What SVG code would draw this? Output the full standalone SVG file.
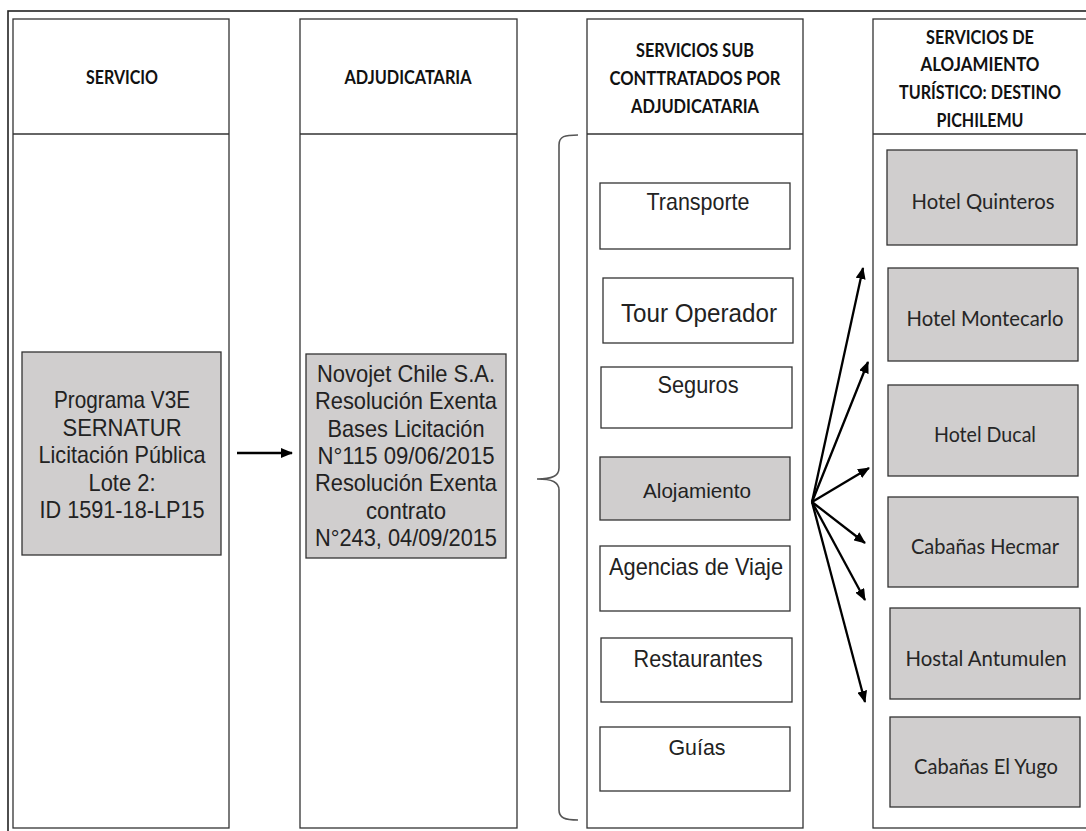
<svg xmlns="http://www.w3.org/2000/svg" width="1086" height="831" viewBox="0 0 1086 831">
<defs>
<style>
.col{fill:#fff;stroke:#333;stroke-width:1.3}
.div{stroke:#333;stroke-width:1.3}
.gbox{fill:#d0cece;stroke:#333;stroke-width:1.3}
.wbox{fill:#fff;stroke:#333;stroke-width:1.3}
.hd{font-family:Lato,"Open Sans",sans-serif;font-weight:bold;font-size:18.5px;fill:#111;text-anchor:middle}
.ar{font-family:"Liberation Sans",Arial,sans-serif;font-size:24px;fill:#222;text-anchor:middle}
.cb{font-family:Lato,"Open Sans",sans-serif;font-size:20.5px;fill:#262626;text-anchor:middle}
.con{stroke:#000;stroke-width:2.3;fill:none}
</style>
<marker id="ah" markerWidth="12" markerHeight="10" refX="11" refY="5" orient="auto" markerUnits="userSpaceOnUse"><path d="M0,0 L12,5 L0,10 z" fill="#000"/></marker>
</defs>
<rect x="0" y="0" width="1086" height="831" fill="#fff"/>
<rect x="8" y="11" width="1100" height="840" fill="none" stroke="#222" stroke-width="1.6"/>

<g id="col-servicio">
<rect class="col" x="13" y="19" width="216" height="809"/>
<line class="div" x1="13" y1="134" x2="229" y2="134"/>
<text class="hd" x="122" y="84" textLength="72" lengthAdjust="spacingAndGlyphs">SERVICIO</text>
</g>
<g id="col-adjudicataria">
<rect class="col" x="300" y="19" width="217" height="809"/>
<line class="div" x1="300" y1="134" x2="517" y2="134"/>
<text class="hd" x="408" y="84" textLength="127" lengthAdjust="spacingAndGlyphs">ADJUDICATARIA</text>
</g>
<g id="col-subcontratados">
<rect class="col" x="587" y="19" width="216" height="809"/>
<line class="div" x1="587" y1="134" x2="803" y2="134"/>
<text class="hd" x="695" y="57" textLength="118" lengthAdjust="spacingAndGlyphs">SERVICIOS SUB</text>
<text class="hd" x="695" y="85" textLength="171" lengthAdjust="spacingAndGlyphs">CONTTRATADOS POR</text>
<text class="hd" x="695" y="113" textLength="128" lengthAdjust="spacingAndGlyphs">ADJUDICATARIA</text>
</g>
<g id="col-alojamiento">
<rect class="col" x="873" y="19" width="230" height="809"/>
<line class="div" x1="873" y1="134" x2="1103" y2="134"/>
<text class="hd" x="980" y="44" textLength="108" lengthAdjust="spacingAndGlyphs">SERVICIOS DE</text>
<text class="hd" x="980" y="71" textLength="119" lengthAdjust="spacingAndGlyphs">ALOJAMIENTO</text>
<text class="hd" x="980" y="99" textLength="162" lengthAdjust="spacingAndGlyphs">TURÍSTICO: DESTINO</text>
<text class="hd" x="980" y="127" textLength="87" lengthAdjust="spacingAndGlyphs">PICHILEMU</text>
</g>

<g id="n-programa">
<rect class="gbox" x="22" y="352" width="199" height="203"/>
<text class="ar" x="122" y="408" textLength="136" lengthAdjust="spacingAndGlyphs">Programa V3E</text>
<text class="ar" x="122" y="435.5" textLength="119" lengthAdjust="spacingAndGlyphs">SERNATUR</text>
<text class="ar" x="122" y="463" textLength="167" lengthAdjust="spacingAndGlyphs">Licitación Pública</text>
<text class="ar" x="122" y="490.5" textLength="67" lengthAdjust="spacingAndGlyphs">Lote 2:</text>
<text class="ar" x="122" y="518" textLength="165" lengthAdjust="spacingAndGlyphs">ID 1591-18-LP15</text>
</g>
<g id="n-novojet">
<rect class="gbox" x="306" y="354" width="200" height="204"/>
<text class="ar" x="406" y="382" textLength="178" lengthAdjust="spacingAndGlyphs">Novojet Chile S.A.</text>
<text class="ar" x="406" y="409.3" textLength="182" lengthAdjust="spacingAndGlyphs">Resolución Exenta</text>
<text class="ar" x="406" y="436.6" textLength="157" lengthAdjust="spacingAndGlyphs">Bases Licitación</text>
<text class="ar" x="406" y="463.9" textLength="177" lengthAdjust="spacingAndGlyphs">N°115 09/06/2015</text>
<text class="ar" x="406" y="491.2" textLength="182" lengthAdjust="spacingAndGlyphs">Resolución Exenta</text>
<text class="ar" x="406" y="518.5" textLength="80" lengthAdjust="spacingAndGlyphs">contrato</text>
<text class="ar" x="406" y="545.8" textLength="182" lengthAdjust="spacingAndGlyphs">N°243, 04/09/2015</text>
</g>

<g id="n-transporte"><rect class="wbox" x="600" y="183" width="190" height="66"/><text class="ar" x="698" y="210" textLength="103" lengthAdjust="spacingAndGlyphs">Transporte</text></g>
<g id="n-tour"><rect class="wbox" x="603" y="278" width="190" height="65"/><text class="ar" x="699" y="321.5" style="font-size:26px" textLength="156" lengthAdjust="spacingAndGlyphs">Tour Operador</text></g>
<g id="n-seguros"><rect class="wbox" x="601" y="367" width="191" height="61"/><text class="ar" x="698" y="393" textLength="81" lengthAdjust="spacingAndGlyphs">Seguros</text></g>
<g id="n-alojamiento"><rect class="gbox" x="600" y="457" width="190" height="63"/><text class="ar" x="697" y="498" style="font-size:21px" textLength="108" lengthAdjust="spacingAndGlyphs">Alojamiento</text></g>
<g id="n-agencias"><rect class="wbox" x="600" y="546" width="190" height="65"/><text class="ar" x="696" y="575" textLength="174" lengthAdjust="spacingAndGlyphs">Agencias de Viaje</text></g>
<g id="n-restaurantes"><rect class="wbox" x="601" y="638" width="191" height="64"/><text class="ar" x="698" y="667" textLength="129" lengthAdjust="spacingAndGlyphs">Restaurantes</text></g>
<g id="n-guias"><rect class="wbox" x="600" y="727" width="190" height="64"/><text class="ar" x="697" y="755" style="font-size:22.5px" textLength="57" lengthAdjust="spacingAndGlyphs">Guías</text></g>

<g id="n-quinteros"><rect class="gbox" x="887" y="150" width="190" height="95"/><text class="cb" x="983" y="209" textLength="143" lengthAdjust="spacingAndGlyphs">Hotel Quinteros</text></g>
<g id="n-montecarlo"><rect class="gbox" x="888" y="268" width="190" height="93"/><text class="cb" x="985" y="326" textLength="157" lengthAdjust="spacingAndGlyphs">Hotel Montecarlo</text></g>
<g id="n-ducal"><rect class="gbox" x="888" y="385" width="190" height="91"/><text class="cb" x="985" y="442" textLength="102" lengthAdjust="spacingAndGlyphs">Hotel Ducal</text></g>
<g id="n-hecmar"><rect class="gbox" x="888" y="497" width="190" height="90"/><text class="cb" x="985" y="554" textLength="148" lengthAdjust="spacingAndGlyphs">Cabañas Hecmar</text></g>
<g id="n-antumulen"><rect class="gbox" x="890" y="608" width="190" height="91"/><text class="cb" x="986" y="666" textLength="161" lengthAdjust="spacingAndGlyphs">Hostal Antumulen</text></g>
<g id="n-yugo"><rect class="gbox" x="890" y="717" width="190" height="90"/><text class="cb" x="986" y="774" textLength="144" lengthAdjust="spacingAndGlyphs">Cabañas El Yugo</text></g>

<g id="connectors">
<line class="con" x1="237" y1="453" x2="292" y2="453" marker-end="url(#ah)"/>
<path d="M578,135 C565,135 559,136 559,145 L559,468 C559,476 552,479 537,479 C552,479 559,482 559,490 L559,810 C559,818 565,820 578,820" fill="none" stroke="#555" stroke-width="1.6"/>
<line class="con" x1="812" y1="502" x2="863" y2="268" marker-end="url(#ah)"/>
<line class="con" x1="812" y1="502" x2="868" y2="362" marker-end="url(#ah)"/>
<line class="con" x1="812" y1="502" x2="869" y2="468" marker-end="url(#ah)"/>
<line class="con" x1="812" y1="502" x2="865" y2="543" marker-end="url(#ah)"/>
<line class="con" x1="812" y1="502" x2="865" y2="600" marker-end="url(#ah)"/>
<line class="con" x1="812" y1="502" x2="865" y2="702" marker-end="url(#ah)"/>
</g>
</svg>
